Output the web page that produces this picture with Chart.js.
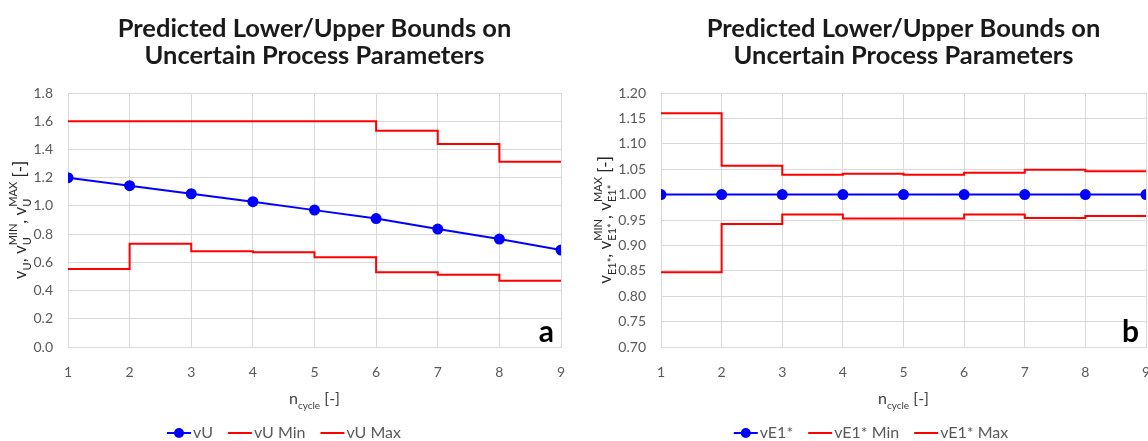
<!DOCTYPE html>
<html><head><meta charset="utf-8">
<script src="https://cdn.jsdelivr.net/npm/chart.js@4.4.1/dist/chart.umd.min.js"></script>
<style>
html,body{margin:0;padding:0;background:#fff;overflow:hidden;width:1148px;height:441px;position:relative;}
.box{position:absolute;top:0;height:441px;width:580px;}
#ba{left:0;}
#bb{left:580px;}
</style></head><body>
<div class="box" id="ba"><canvas id="ca" width="580" height="441"></canvas></div>
<div class="box" id="bb"><canvas id="cb" width="580" height="441"></canvas></div>
<script>
// ---- data (value at cycle k holds from k to k+1 for the bound series) ----
const cycles = [1, 2, 3, 4, 5, 6, 7, 8, 9];
const vU     = [1.200, 1.143, 1.086, 1.030, 0.970, 0.910, 0.836, 0.765, 0.687];
const vUMin  = [0.553, 0.732, 0.678, 0.672, 0.636, 0.530, 0.512, 0.470, 0.470];
const vUMax  = [1.600, 1.600, 1.600, 1.600, 1.600, 1.533, 1.439, 1.313, 1.313];
const vE1    = [1.000, 1.000, 1.000, 1.000, 1.000, 1.000, 1.000, 1.000, 1.000];
const vE1Min = [0.847, 0.942, 0.961, 0.953, 0.953, 0.961, 0.954, 0.958, 0.958];
const vE1Max = [1.160, 1.057, 1.039, 1.041, 1.039, 1.043, 1.049, 1.046, 1.046];
const namesA = ['vU', 'vU Min', 'vU Max'];
const namesB = ['vE1*', 'vE1* Min', 'vE1* Max'];
const titleLines = ['Predicted Lower/Upper Bounds on', 'Uncertain Process Parameters'];
const yRangeA = [0, 1.8, 0.2];
const yRangeB = [0.70, 1.20, 0.05];
const xRange = [1, 9, 1];

const FONT = 'Lato';
const BLUE = '#0000ff', RED = '#ff0000';

function rich(ctx, parts, x, y, mainSize, smallSize, color, weight) {
  const mainF = (weight||'normal') + ' ' + mainSize + 'px ' + FONT;
  const smallF = (weight||'normal') + ' ' + smallSize + 'px ' + FONT;
  let w = 0;
  const m = parts.map(p => {
    ctx.font = mainF; const wm = p.t ? ctx.measureText(p.t).width : 0;
    ctx.font = smallF;
    const ws = p.sub ? ctx.measureText(p.sub).width : 0;
    const wp = p.sup ? ctx.measureText(p.sup).width : 0;
    const tot = wm + Math.max(ws, wp);
    w += tot; return {wm, tot};
  });
  let cx = x - w / 2;
  ctx.fillStyle = color; ctx.textAlign = 'left'; ctx.textBaseline = 'alphabetic';
  parts.forEach((p, i) => {
    ctx.font = mainF; if (p.t) ctx.fillText(p.t, cx, y);
    ctx.font = smallF;
    if (p.sub) ctx.fillText(p.sub, cx + m[i].wm, y + mainSize * 0.3);
    if (p.sup) ctx.fillText(p.sup, cx + m[i].wm, y - mainSize * 0.55);
    cx += m[i].tot;
  });
  return w;
}

const decor = {
  id: 'decor',
  afterDraw(chart) {
    const o = chart.options.plugins.decor;
    const ctx = chart.ctx, a = chart.chartArea;
    const cx = (a.left + a.right) / 2;
    ctx.save();
    // title
    ctx.font = 'bold 24px ' + FONT;
    const w2 = ctx.measureText(titleLines[1]).width;
    const ts = 24 * 340 / w2;
    ctx.font = 'bold ' + ts + 'px ' + FONT;
    ctx.fillStyle = '#1a1a1a'; ctx.textAlign = 'center'; ctx.textBaseline = 'alphabetic';
    ctx.fillText(titleLines[0], cx, 37);
    ctx.fillText(titleLines[1], cx, 64);
    // y title
    ctx.save();
    ctx.translate(o.yTitleX, (a.top + a.bottom) / 2);
    ctx.rotate(-Math.PI / 2);
    rich(ctx, o.yTitle, 0, 0, 17, 11, '#262626');
    ctx.restore();
    // x title
    rich(ctx, [{t: 'n', sub: 'cycle'}, {t: ' [-]'}], cx, 404, 16, 10, '#404040');
    // panel letter
    ctx.font = 'bold 30px ' + FONT;
    ctx.fillStyle = '#000'; ctx.textAlign = 'right'; ctx.textBaseline = 'alphabetic';
    ctx.fillText(o.letter, a.right - 7, a.bottom - 5);
    // legend
    const ds = chart.data.datasets;
    ctx.font = '16px ' + FONT;
    const iconW = 24, gap = 2, sp = 15;
    const widths = ds.map(d => iconW + gap + ctx.measureText(d.label).width);
    const total = widths.reduce((s, v) => s + v, 0) + sp * (ds.length - 1);
    let lx = o.legendCx - total / 2;
    const ly = 433;
    ds.forEach((d, i) => {
      ctx.strokeStyle = d.borderColor; ctx.lineWidth = 2;
      ctx.beginPath(); ctx.moveTo(lx, ly); ctx.lineTo(lx + iconW, ly); ctx.stroke();
      if (d.pointRadius > 0) {
        ctx.fillStyle = d.borderColor;
        ctx.beginPath(); ctx.arc(lx + iconW / 2, ly, 5, 0, Math.PI * 2); ctx.fill();
      }
      ctx.fillStyle = '#595959'; ctx.textAlign = 'left'; ctx.textBaseline = 'middle';
      ctx.fillText(d.label, lx + iconW + gap, ly);
      lx += widths[i] + sp;
    });
    ctx.restore();
  }
};

function pts(arr) { return cycles.map((c, i) => ({x: c, y: arr[i]})); }

function makeChart(id, cfg) {
  return new Chart(document.getElementById(id), {
    type: 'line',
    data: {datasets: [
      {label: cfg.names[0], data: pts(cfg.mid), borderColor: BLUE, backgroundColor: BLUE,
       borderWidth: 2, pointRadius: 5.5, pointHoverRadius: 5.5, pointBorderWidth: 0, tension: 0},
      {label: cfg.names[1], data: pts(cfg.lo), borderColor: RED, backgroundColor: RED,
       borderWidth: 2, pointRadius: 0, stepped: 'before'},
      {label: cfg.names[2], data: pts(cfg.hi), borderColor: RED, backgroundColor: RED,
       borderWidth: 2, pointRadius: 0, stepped: 'before'}
    ]},
    options: {
      responsive: false, animation: false, events: [],
      layout: {padding: {top: 93, right: cfg.padRight, bottom: 0, left: 0}},
      plugins: {legend: {display: false}, title: {display: false}, tooltip: {enabled: false},
        decor: {yTitle: cfg.yTitle, yTitleX: cfg.yTitleX, letter: cfg.letter, legendCx: cfg.legendCx}},
      scales: {
        x: {type: 'linear', min: xRange[0], max: xRange[1],
            ticks: {stepSize: xRange[2], padding: 17, color: '#595959', font: {family: FONT, size: 14}},
            grid: {color: '#d9d9d9', drawTicks: false, lineWidth: 1},
            border: {color: '#d9d9d9'},
            afterFit(s) { s.height = 94; s.paddingLeft = 0; s.paddingRight = 0; }},
        y: {type: 'linear', min: cfg.yr[0], max: cfg.yr[1],
            ticks: {stepSize: cfg.yr[2], padding: 15, color: '#595959', font: {family: FONT, size: 14},
                    callback: v => Number(v).toFixed(cfg.dec)},
            grid: {color: '#d9d9d9', drawTicks: false, lineWidth: 1},
            border: {color: '#d9d9d9'},
            afterFit(s) { s.width = cfg.left; }}
      }
    },
    plugins: [decor]
  });
}

makeChart('ca', {names: namesA, mid: vU, lo: vUMin, hi: vUMax, yr: yRangeA, dec: 1,
  left: 68, padRight: 19, letter: 'a', legendCx: 284, yTitleX: 26,
  yTitle: [{t: 'v', sub: 'U'}, {t: ', v', sub: 'U', sup: 'MIN'}, {t: ', v', sub: 'U', sup: 'MAX'}, {t: ' [-]'}]});
makeChart('cb', {names: namesB, mid: vE1, lo: vE1Min, hi: vE1Max, yr: yRangeB, dec: 2,
  left: 81, padRight: 14, letter: 'b', legendCx: 291, yTitleX: 31,
  yTitle: [{t: 'v', sub: 'E1*'}, {t: ', v', sub: 'E1*', sup: 'MIN'}, {t: ', v', sub: 'E1*', sup: 'MAX'}, {t: ' [-]'}]});
</script>
</body></html>
